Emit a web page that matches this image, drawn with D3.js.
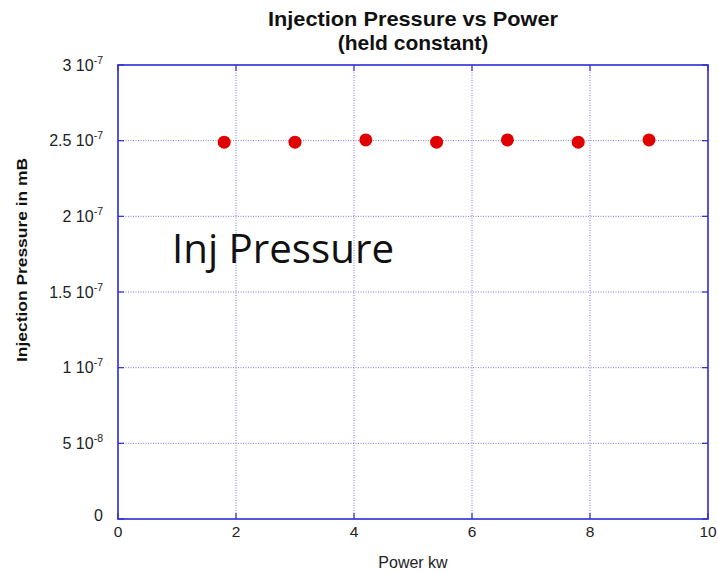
<!DOCTYPE html>
<html>
<head>
<meta charset="utf-8">
<script src="https://cdn.jsdelivr.net/npm/d3@7"></script>
<style>
  html, body { margin: 0; padding: 0; background: #fff; }
  svg { display: block; font-family: "Liberation Sans", Arial, sans-serif; }
</style>
</head>
<body>
<div id="chart"></div>
<script>
// values
const powerKw = [1.8, 3.0, 4.2, 5.4, 6.6, 7.8, 9.0];
const injPressure = [2.49e-7, 2.49e-7, 2.505e-7, 2.49e-7, 2.505e-7, 2.49e-7, 2.505e-7];
const xTicks = [0, 2, 4, 6, 8, 10];
const yTicks = [0, 5e-8, 1e-7, 1.5e-7, 2e-7, 2.5e-7, 3e-7];
const yTickLabels = [["0", ""], ["5 10", "-8"], ["1 10", "-7"], ["1.5 10", "-7"], ["2 10", "-7"], ["2.5 10", "-7"], ["3 10", "-7"]];

const W = 718, H = 573;
const m = { t: 65, r: 10, b: 54, l: 118 };
const svg = d3.select("#chart").append("svg").attr("width", W).attr("height", H);

const x = d3.scaleLinear().domain([0, 10]).range([m.l, W - m.r]);
const y = d3.scaleLinear().domain([0, 3e-7]).range([H - m.b, m.t]);
const blue = "#2b2bd6", grid = "#7a7af0";

// grid
svg.append("g").selectAll("line").data(xTicks.slice(1, -1)).join("line")
  .attr("x1", d => x(d)).attr("x2", d => x(d)).attr("y1", m.t).attr("y2", H - m.b)
  .attr("stroke", grid).attr("stroke-width", 1).attr("stroke-dasharray", "1,1.5");
svg.append("g").selectAll("line").data(yTicks.slice(1, -1)).join("line")
  .attr("x1", m.l).attr("x2", W - m.r).attr("y1", d => y(d)).attr("y2", d => y(d))
  .attr("stroke", grid).attr("stroke-width", 1).attr("stroke-dasharray", "1,1.5");

// short tick marks on all four sides
const tk = svg.append("g").attr("stroke", blue).attr("stroke-width", 1.2);
xTicks.forEach(t => {
  tk.append("line").attr("x1", x(t)).attr("x2", x(t)).attr("y1", H - m.b).attr("y2", H - m.b - 6);
  tk.append("line").attr("x1", x(t)).attr("x2", x(t)).attr("y1", m.t).attr("y2", m.t + 6);
});
yTicks.forEach(t => {
  tk.append("line").attr("x1", m.l).attr("x2", m.l + 6).attr("y1", y(t)).attr("y2", y(t));
  tk.append("line").attr("x1", W - m.r).attr("x2", W - m.r - 6).attr("y1", y(t)).attr("y2", y(t));
});

// frame
svg.append("rect").attr("x", m.l).attr("y", m.t)
  .attr("width", W - m.r - m.l).attr("height", H - m.b - m.t)
  .attr("fill", "none").attr("stroke", blue).attr("stroke-width", 1.6);

// tick labels
svg.append("g").selectAll("text").data(xTicks).join("text")
  .attr("x", d => x(d)).attr("y", H - m.b + 18)
  .attr("text-anchor", "middle").attr("font-size", 15.5).attr("fill", "#222")
  .text(d => d);

const yl = svg.append("g").selectAll("text").data(yTicks).join("text")
  .attr("x", m.l - 15).attr("y", d => y(d) + 5.5)
  .attr("text-anchor", "end").attr("font-size", 16).attr("fill", "#222");
yl.each(function (d, i) {
  const t = d3.select(this), lab = yTickLabels[i];
  if (i === 0) t.attr("y", y(d) + 2);
  t.append("tspan").text(lab[0]);
  if (lab[1]) t.append("tspan").attr("font-size", 10.5).attr("dy", -7).text(lab[1]);
});

// points
svg.append("g").selectAll("circle").data(powerKw).join("circle")
  .attr("cx", (d) => x(d)).attr("cy", (d, i) => y(injPressure[i]))
  .attr("r", 6.5).attr("fill", "#e00000");

// titles
const cx = (m.l + W - m.r) / 2;
svg.append("text").attr("x", cx).attr("y", 26).attr("text-anchor", "middle")
  .attr("font-size", 21).attr("font-weight", "bold").attr("fill", "#111")
  .attr("textLength", 290).attr("lengthAdjust", "spacingAndGlyphs")
  .text("Injection Pressure vs Power");
svg.append("text").attr("x", cx).attr("y", 50).attr("text-anchor", "middle")
  .attr("font-size", 21).attr("font-weight", "bold").attr("fill", "#111")
  .text("(held constant)");
svg.append("text").attr("x", 413).attr("y", 568).attr("text-anchor", "middle")
  .attr("font-size", 16).attr("fill", "#222").text("Power kw");
svg.append("text").attr("transform", `translate(27,260) rotate(-90)`)
  .attr("text-anchor", "middle").attr("font-size", 15).attr("font-weight", "bold")
  .attr("textLength", 204).attr("lengthAdjust", "spacingAndGlyphs")
  .attr("fill", "#111").text("Injection Pressure in mB");

// annotation
svg.append("text").attr("x", 172).attr("y", 263)
  .attr("font-family", "'Open Sans', 'Noto Sans', sans-serif")
  .attr("font-size", 40).attr("fill", "#111")
  .attr("textLength", 222).attr("lengthAdjust", "spacingAndGlyphs")
  .text("Inj Pressure");
</script>
</body>
</html>
